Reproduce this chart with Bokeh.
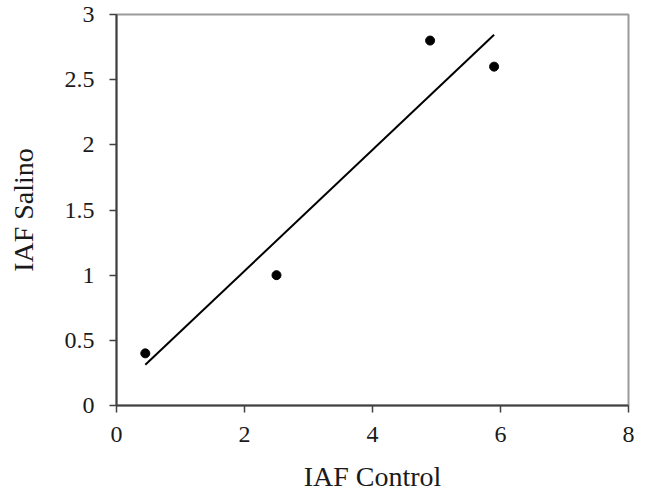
import numpy as np
from bokeh.plotting import figure
from bokeh.models import Range1d, FixedTicker
from bokeh.embed import file_html
from bokeh.resources import INLINE

# Data
iaf_control = [0.45, 2.5, 4.9, 5.9]
iaf_salino = [0.4, 1.0, 2.8, 2.6]

x_ticks = [0, 2, 4, 6, 8]
y_ticks = [0, 0.5, 1, 1.5, 2, 2.5, 3]
y_tick_labels = ["0", "0.5", "1", "1.5", "2", "2.5", "3"]

# Linear trend line (least squares, as in the original)
slope, intercept = np.polyfit(iaf_control, iaf_salino, 1)
trend_x = [min(iaf_control), max(iaf_control)]
trend_y = [slope * v + intercept for v in trend_x]

FONT = "Liberation Serif"

p = figure(width=646, height=494, output_backend="svg", toolbar_location=None,
           x_range=Range1d(0, 8), y_range=Range1d(0, 3),
           min_border_left=116, min_border_right=18,
           min_border_top=14, min_border_bottom=89)

p.background_fill_color = "white"
p.border_fill_color = "white"
p.outline_line_color = "#9a9a9a"
p.outline_line_width = 2
p.grid.visible = False

p.line(trend_x, trend_y, line_color="black", line_width=2)
p.scatter(iaf_control, iaf_salino, size=9, color="black")

for ax in (p.xaxis[0], p.yaxis[0]):
    ax.axis_line_color = "#404040"
    ax.axis_line_width = 2
    ax.major_tick_line_color = "#404040"
    ax.major_tick_line_width = 1.5
    ax.major_tick_out = 7
    ax.major_tick_in = 0
    ax.minor_tick_line_color = None
    ax.major_label_text_font = FONT
    ax.major_label_text_font_size = "24px"
    ax.major_label_text_color = "#1a1a1a"
    ax.axis_label_text_font = FONT
    ax.axis_label_text_font_size = "28px"
    ax.axis_label_text_font_style = "normal"
    ax.axis_label_text_color = "#1a1a1a"

p.xaxis.ticker = FixedTicker(ticks=x_ticks)
p.yaxis.ticker = FixedTicker(ticks=y_ticks)
p.yaxis.major_label_overrides = {t: l for t, l in zip(y_ticks, y_tick_labels)}
p.xaxis.major_label_standoff = 14
p.yaxis.major_label_standoff = 15
p.xaxis.axis_label = "IAF Control"
p.yaxis.axis_label = "IAF Salino"
p.xaxis.axis_label_standoff = 16
p.yaxis.axis_label_standoff = 23

open("out.html", "w").write(file_html(p, INLINE))
